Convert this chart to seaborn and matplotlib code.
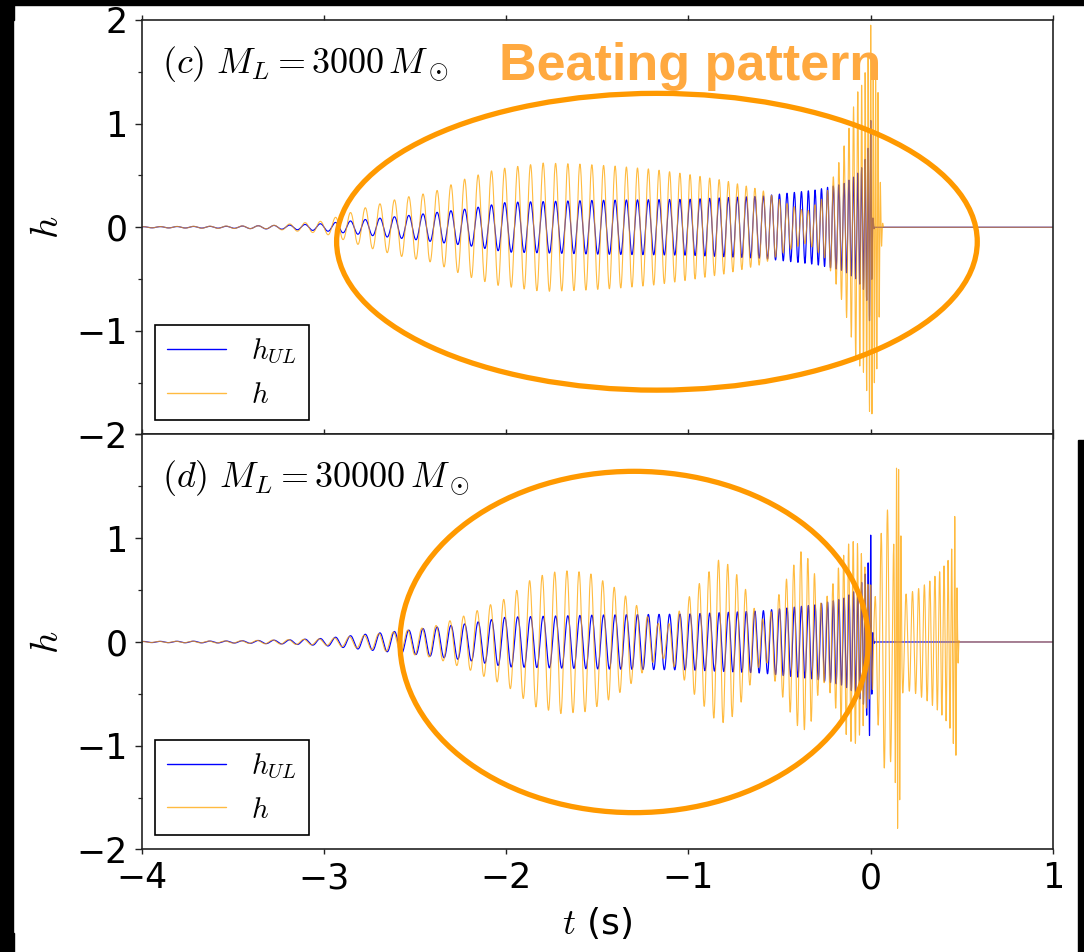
import numpy as np
import matplotlib
matplotlib.use("Agg")
import matplotlib.pyplot as plt
import seaborn as sns
from matplotlib.patches import Ellipse, Rectangle

# ---------------- data ----------------
# carrier (GW) frequency of the unlensed signal, Hz
freq_t = [-4.0, -3.5, -3.0, -2.5, -2.0, -1.5, -1.0, -0.6, -0.3, -0.15, -0.08, -0.04, -0.01, 0.0, 0.07, 1.0]
freq_f = [10.8, 11.3, 12.0, 12.8, 13.9, 15.5, 18.0, 21.6, 27.7, 35.2, 42.9, 52.0, 67.0, 75.0, 75.0, 75.0]

# carrier frequency of the lensed signal in panel (d) (after the first merger it follows the delayed image)
freq_d_t = [-4.0, -3.5, -3.0, -2.5, -2.0, -1.5, -1.0, -0.6, -0.3, -0.15, -0.08, -0.04, -0.01, 0.0, 0.02,
            0.12, 0.135, 0.15, 0.165, 0.178, 0.25, 0.32, 0.38, 0.43, 0.455, 0.47, 1.0]
freq_d_f = [10.8, 11.3, 12.0, 12.8, 13.9, 15.5, 18.0, 21.6, 27.7, 35.2, 42.9, 52.0, 67.0, 60.0, 30.0,
            28.0, 70.0, 90.0, 70.0, 27.0, 30.0, 34.0, 40.0, 48.0, 60.0, 80.0, 80.0]

# envelope of the unlensed waveform h_UL (same in both panels)
ul_t = [-4.0, -3.5, -3.2, -3.0, -2.8, -2.5, -2.2, -2.0, -1.5, -1.0, -0.6, -0.3, -0.15, -0.08,
        -0.04, -0.015, 0.0, 0.005, 0.012, 0.02]
ul_a = [0.005, 0.01, 0.02, 0.035, 0.07, 0.12, 0.18, 0.24, 0.26, 0.27, 0.30, 0.36, 0.42, 0.50,
        0.60, 0.75, 1.03, 0.60, 0.10, 0.0]

# envelope of the lensed waveform h, panel (c) M_L = 3000 Msun
c_t = [-4.0, -3.3, -3.0, -2.77, -2.58, -2.4, -2.22, -2.05, -1.8, -1.6, -1.4, -1.2, -1.0, -0.8,
       -0.6, -0.45, -0.35, -0.25, -0.19, -0.16, -0.12, -0.08, -0.04, -0.01, 0.0, 0.02, 0.04,
       0.055, 0.065, 0.07]
c_a = [0.005, 0.015, 0.06, 0.19, 0.28, 0.34, 0.47, 0.56, 0.62, 0.61, 0.59, 0.56, 0.51, 0.45,
       0.36, 0.22, 0.15, 0.30, 0.55, 0.70, 0.95, 1.28, 1.40, 1.70, 1.95, 1.50, 1.30,
       0.30, 0.05, 0.0]

# envelope of the lensed waveform h, panel (d) M_L = 30000 Msun
d_t = [-4.0, -3.5, -3.0, -2.8, -2.6, -2.4, -2.2, -2.1, -2.0, -1.85, -1.7, -1.55, -1.4, -1.3,
       -1.2, -1.12, -1.05, -0.97, -0.9, -0.83, -0.76, -0.69, -0.62, -0.57, -0.52, -0.45, -0.38,
       -0.32, -0.27, -0.22, -0.17, -0.12, -0.08, -0.04, -0.015, 0.0, 0.02, 0.045, 0.07, 0.1,
       0.125, 0.145, 0.16, 0.172, 0.19, 0.25, 0.32, 0.38, 0.43, 0.452, 0.465, 0.475, 0.485]
d_a = [0.005, 0.01, 0.03, 0.06, 0.10, 0.15, 0.27, 0.35, 0.42, 0.62, 0.69, 0.67, 0.52, 0.38,
       0.20, 0.15, 0.30, 0.50, 0.65, 0.80, 0.72, 0.52, 0.25, 0.20, 0.40, 0.65, 0.88,
       0.75, 0.35, 0.50, 0.75, 0.95, 0.98, 0.80, 0.55, 0.55, 0.35, 0.90, 1.20, 1.30,
       0.90, 1.85, 1.50, 0.50, 0.46, 0.50, 0.58, 0.68, 0.80, 0.95, 1.33, 0.40, 0.0]

panel_labels = [r"$(c)\ M_L = 3000\,M_\odot$", r"$(d)\ M_L = 30000\,M_\odot$"]
legend_labels = [r"$h_{UL}$", r"$h$"]
x_ticks = [-4, -3, -2, -1, 0, 1]
x_ticklabels = ["\u22124", "\u22123", "\u22122", "\u22121", "0", "1"]
y_ticks = [-2, -1, 0, 1, 2]
y_ticklabels = ["\u22122", "\u22121", "0", "1", "2"]

# ---------------- build the traces ----------------
t = np.linspace(-4.0, 1.0, 50001)


def carrier_phase(kt, kf):
    f = np.interp(t, kt, kf)
    ph = 2 * np.pi * np.concatenate([[0.0], np.cumsum(0.5 * (f[1:] + f[:-1]) * np.diff(t))])
    i0 = np.argmin(np.abs(t))
    return ph - ph[i0]


ph = carrier_phase(freq_t, freq_f)
ph_d = carrier_phase(freq_d_t, freq_d_f)
h_ul = np.interp(t, ul_t, ul_a, right=0.0) * np.cos(ph)
h_c = np.interp(t, c_t, c_a, right=0.0) * np.cos(ph)
h_d = np.interp(t, d_t, d_a, right=0.0) * np.cos(ph_d)

# ---------------- style ----------------
sns.set_style("ticks")
plt.rcParams["font.family"] = ["DejaVu Sans"]
plt.rcParams["mathtext.fontset"] = "cm"
for key in ["text.color", "axes.labelcolor", "xtick.color", "ytick.color"]:
    plt.rcParams[key] = "black"

fig = plt.figure(figsize=(10.84, 9.52), dpi=100)
ax1 = fig.add_axes([0.1307, 0.5436, 0.8407, 0.4354])
ax2 = fig.add_axes([0.1307, 0.1077, 0.8407, 0.4359])

traces = [(ax1, h_c), (ax2, h_d)]
ellipses = [dict(xy=(-1.173, -0.14), width=3.515, height=2.864),
            dict(xy=(-1.298, 0.0), width=2.57, height=3.29)]

for i, (ax, h_l) in enumerate(traces):
    sns.lineplot(x=t, y=h_ul, ax=ax, color="#0000FF", lw=0.85, estimator=None, sort=False,
                 label=legend_labels[0])
    sns.lineplot(x=t, y=h_l, ax=ax, color="#FFA500", lw=0.8, alpha=0.75, estimator=None,
                 sort=False, label=legend_labels[1])
    ax.set_xlim(-4, 1)
    ax.set_ylim(-2, 2)
    ax.set_xticks(x_ticks)
    ax.set_yticks(y_ticks)
    ax.set_yticks([-1.5, -0.5, 0.5, 1.5], minor=True)
    ax.tick_params(axis="x", which="major", direction="out", length=3.6, width=1.0,
                   top=True, labelsize=25, pad=5, color="#222222", labelcolor="black")
    ax.tick_params(axis="y", which="major", direction="out", length=4.8, width=1.0,
                   labelsize=25, pad=5.5, color="#222222", labelcolor="black")
    ax.tick_params(axis="y", which="minor", direction="out", length=3.0, width=0.9,
                   left=True, color="#222222")
    labels = list(y_ticklabels)
    if i == 1:
        labels[-1] = ""   # coincides with the "2" of the upper panel's "-2"
    ax.set_yticklabels(labels)
    for s in ax.spines.values():
        s.set_linewidth(1.2)
        s.set_color("#222222")
    ax.set_ylabel(r"$h$", fontsize=28, color="black")
    ax.yaxis.set_label_coords(-0.083, 0.5)
    ax.text(-3.889, 1.49, panel_labels[i], fontsize=26, ha="left", va="baseline", color="black")
    leg = ax.legend(loc="lower left", bbox_to_anchor=(0.0146, 0.034), borderaxespad=0,
                    fontsize=21, frameon=True, fancybox=False, framealpha=1.0,
                    edgecolor="black", handlelength=2.05, handletextpad=0.85,
                    borderpad=0.4, labelspacing=0.5)
    leg.get_frame().set_linewidth(1.2)
    for txt in leg.get_texts():
        txt.set_color("black")
    for ln in leg.get_lines():
        ln.set_linewidth(1.0)
    e = Ellipse(fill=False, edgecolor="#FF9900", lw=3.8, zorder=5, **ellipses[i])
    ax.add_patch(e)

ax1.tick_params(axis="x", labelbottom=False)
ax2.set_xticklabels(x_ticklabels)
ax2.set_xlabel(r"$t$ (s)", fontsize=26, color="black")
ax2.xaxis.set_label_coords(0.5, -0.135)

ax1.text(-0.99, 1.42, "Beating pattern", fontsize=37.5, fontweight="bold",
         family="Liberation Sans", color="#FFA940", ha="center", va="baseline", zorder=6)

# dark frame remnants of the original screenshot
W, H = 1084.0, 952.0
for (x0, y0, w, hgt) in [(0, 0, 1084, 5), (0, 0, 12.5, 952), (0, 0, 13.5, 20),
                         (1078, 440, 6, 512), (0, 933, 13.5, 19)]:
    fig.patches.append(Rectangle((x0 / W, 1 - (y0 + hgt) / H), w / W, hgt / H,
                                 transform=fig.transFigure, color="black", zorder=10))

fig.savefig("out.png", dpi=100)
